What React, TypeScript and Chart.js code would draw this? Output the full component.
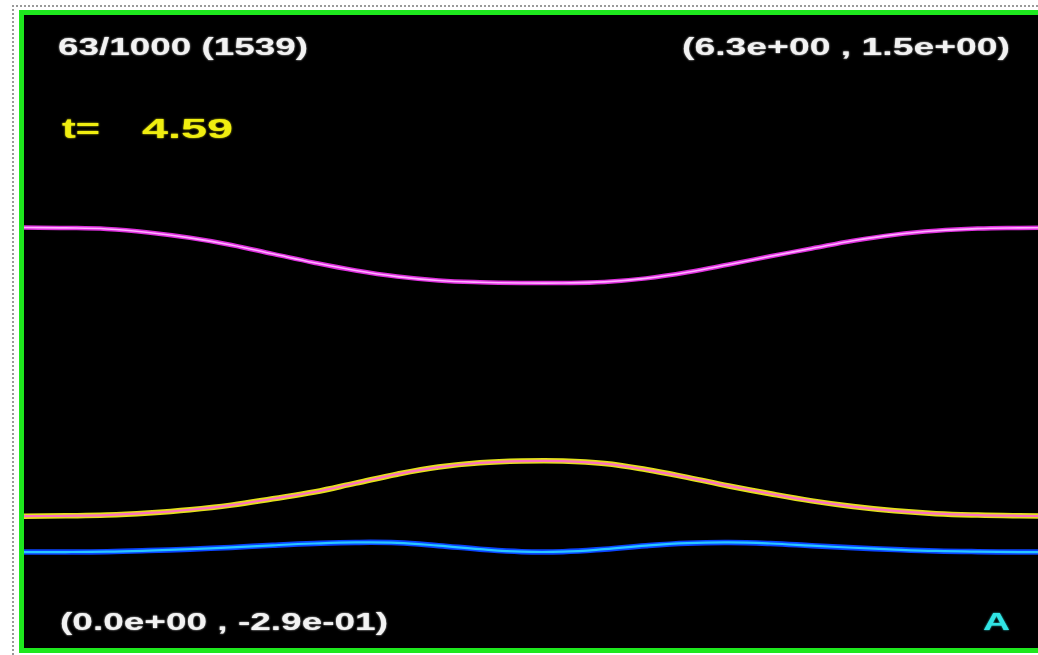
import React, { useEffect, useRef } from "react";
import { Chart, registerables } from "chart.js";
Chart.register(...registerables);

// x positions (radians, 0..2π)
const xs = [
  0, 0.25, 0.5, 0.75, 1.0, 1.25, 1.5, 1.75, 2.0, 2.25, 2.5, 2.75, 3.0, 3.25,
  3.5, 3.75, 4.0, 4.25, 4.5, 4.75, 5.0, 5.25, 5.5, 5.75, 6.0, 6.25, 6.283,
];
// upper (magenta) curve
const magentaVals = [
  0.899, 0.898, 0.895, 0.885, 0.87, 0.85, 0.825, 0.8, 0.778, 0.761, 0.75,
  0.745, 0.743, 0.743, 0.746, 0.756, 0.773, 0.795, 0.818, 0.84, 0.862, 0.879,
  0.89, 0.896, 0.898, 0.899, 0.899,
];
// middle (yellow / pink) curve
const yellowVals = [
  0.087, 0.088, 0.09, 0.096, 0.105, 0.118, 0.136, 0.155, 0.18, 0.205, 0.225,
  0.237, 0.242, 0.242, 0.235, 0.218, 0.196, 0.172, 0.15, 0.13, 0.114, 0.102,
  0.094, 0.09, 0.088, 0.087, 0.087,
];
// lower (blue) curve
const blueVals = [
  -0.014, -0.014, -0.013, -0.01, -0.006, -0.001, 0.005, 0.01, 0.013, 0.012,
  0.004, -0.006, -0.013, -0.013, -0.006, 0.004, 0.011, 0.013, 0.01, 0.004,
  -0.002, -0.007, -0.011, -0.013, -0.014, -0.014, -0.014,
];

const X_MIN = 0;
const X_MAX = 6.283;
const Y_MIN = -0.284;
const Y_MAX = 1.497;

const frameLabel = "63/1000 (1539)";
const topRightLabel = "(6.3e+00 , 1.5e+00)";
const bottomLeftLabel = "(0.0e+00 , -2.9e-01)";
const timePrefix = "t=";
const timeValue = "4.59";
const cornerLetter = "A";

// canvas origin in page pixels
const OX = 24;
const OY = 15;

type Lbl = { text: string; x: number; w: number; base: number; size: number; color: string };
const labels: Lbl[] = [
  { text: frameLabel, x: 58, w: 250, base: 55, size: 23, color: "#f2f2f2" },
  { text: topRightLabel, x: 682, w: 328, base: 55, size: 23, color: "#f2f2f2" },
  { text: timePrefix, x: 62, w: 38, base: 138, size: 28, color: "#f0ee10" },
  { text: timeValue, x: 142, w: 91, base: 138, size: 28, color: "#f0ee10" },
  { text: bottomLeftLabel, x: 60, w: 328, base: 630, size: 23, color: "#f2f2f2" },
  { text: cornerLetter, x: 983, w: 27, base: 630, size: 23, color: "#30e4e4" },
];

const textPlugin = {
  id: "cornerText",
  afterDraw(chart: any) {
    const ctx = chart.ctx as CanvasRenderingContext2D;
    for (const l of labels) {
      ctx.save();
      ctx.font = `bold ${l.size}px "Liberation Sans", Arial, sans-serif`;
      const m = ctx.measureText(l.text).width;
      const sx = l.w / m;
      ctx.translate(l.x - OX, l.base - OY);
      ctx.scale(sx, 1);
      ctx.fillStyle = l.color;
      ctx.shadowColor = l.color;
      ctx.shadowBlur = 2;
      ctx.textBaseline = "alphabetic";
      ctx.textAlign = "left";
      ctx.fillText(l.text, 0, 0);
      ctx.restore();
    }
  },
};

function pts(vals: number[]) {
  return xs.map((x, i) => ({ x, y: vals[i] }));
}

export default function App() {
  const ref = useRef<HTMLCanvasElement | null>(null);
  useEffect(() => {
    if (!ref.current) return;
    const line = (vals: number[], color: string, width: number, order: number) => ({
      data: pts(vals),
      borderColor: color,
      borderWidth: width,
      pointRadius: 0,
      tension: 0.4,
      fill: false,
      order,
    });
    const chart = new Chart(ref.current, {
      type: "line",
      data: {
        datasets: [
          line(magentaVals, "#ffb0ff", 1.6, 0),
          line(yellowVals, "#ff70c0", 2.2, 0),
          line(blueVals, "#28c8ff", 2.2, 0),
          line(magentaVals, "#de30de", 4.5, 1),
          line(yellowVals, "#e4e01c", 5.5, 1),
          line(blueVals, "#0a44ff", 5.5, 1),
        ] as any,
      },
      options: {
        animation: false,
        responsive: false,
        maintainAspectRatio: false,
        devicePixelRatio: 1,
        layout: { padding: 0 },
        scales: {
          x: { type: "linear", min: X_MIN, max: X_MAX, display: false },
          y: { type: "linear", min: Y_MIN, max: Y_MAX, display: false },
        },
        plugins: {
          legend: { display: false },
          tooltip: { enabled: false },
        },
      },
      plugins: [textPlugin],
    });
    return () => chart.destroy();
  }, []);

  return (
    <div style={{ position: "absolute", left: 0, top: 0, width: 1100, height: 660, background: "#fff", overflow: "hidden" }}>
      <div
        style={{
          position: "absolute",
          left: 12,
          top: 5,
          width: 1200,
          height: 800,
          borderLeft: "2px dotted #9a9a9a",
          borderTop: "2px dotted #9a9a9a",
        }}
      />
      <div
        style={{
          position: "absolute",
          left: 19,
          top: 10,
          width: 1060,
          height: 633,
          border: "5px solid #1ee81e",
          background: "#000",
        }}
      >
        <canvas ref={ref} width={1042} height={633} style={{ position: "absolute", left: 0, top: 0 }} />
      </div>
    </div>
  );
}
